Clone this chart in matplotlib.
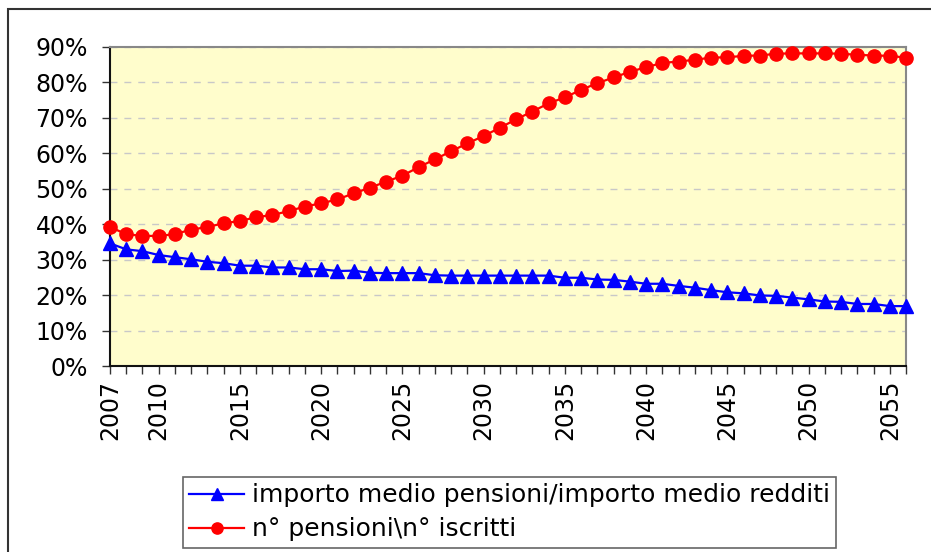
import numpy as np
import matplotlib.pyplot as plt
from matplotlib.ticker import MultipleLocator, FuncFormatter
from matplotlib.patches import Rectangle

# data (percent)
years = np.arange(2007, 2057)
ratio_importo = [34.6, 32.9, 32.4, 31.3, 30.7, 30.1, 29.4, 29.0, 28.3, 28.3,
                 27.8, 27.8, 27.3, 27.3, 26.8, 26.9, 26.3, 26.2, 26.2, 26.2,
                 25.6, 25.5, 25.5, 25.5, 25.5, 25.5, 25.5, 25.5, 24.9, 24.9,
                 24.4, 24.3, 23.8, 23.2, 23.2, 22.6, 22.1, 21.4, 20.8, 20.5,
                 19.9, 19.8, 19.3, 18.8, 18.2, 18.1, 17.5, 17.5, 16.9, 16.9]
ratio_numero = [39.2, 37.2, 36.7, 36.7, 37.2, 38.5, 39.2, 40.3, 40.9, 42.0,
                42.6, 43.7, 45.0, 45.9, 47.0, 48.7, 50.3, 52.0, 53.7, 56.1,
                58.3, 60.6, 62.8, 64.9, 67.2, 69.6, 71.8, 74.1, 75.8, 77.9,
                79.8, 81.4, 83.0, 84.3, 85.5, 85.9, 86.4, 87.0, 87.1, 87.5,
                87.6, 88.1, 88.2, 88.2, 88.2, 88.1, 87.8, 87.6, 87.5, 87.0]
label_importo = "importo medio pensioni/importo medio redditi"
label_numero = "n° pensioni\\n° iscritti"
year_ticks = [2007, 2010, 2015, 2020, 2025, 2030, 2035, 2040, 2045, 2050, 2055]

plt.rcParams['font.family'] = 'DejaVu Sans'

W, H = 931, 552
fig = plt.figure(figsize=(W / 100, H / 100), dpi=100)

# outer chart frame (cut off at right/bottom like the reference)
fig.patches.append(Rectangle((8 / W, -0.1), 1.2, (H - 9) / H + 0.1,
                             transform=fig.transFigure, fill=False,
                             edgecolor='#333333', linewidth=1.5))

ax = fig.add_axes([110 / W, 1 - 366 / H, (906 - 110) / W, (366 - 47) / H])
ax.set_facecolor('#FFFDCC')

ax.plot(years, ratio_importo, color='#0000FF', marker='^', markersize=9.5,
        linewidth=1.6, clip_on=False, zorder=3, label=label_importo)
ax.plot(years, ratio_numero, color='#FF0000', marker='o', markersize=9.5,
        linewidth=1.6, clip_on=False, zorder=3, label=label_numero)

ax.set_xlim(2007, 2056)
ax.set_ylim(0, 90)
ax.yaxis.set_major_locator(MultipleLocator(10))
ax.yaxis.set_major_formatter(FuncFormatter(lambda v, p: f"{v:.0f}%"))
ax.set_xticks(years)
ax.set_xticklabels([str(y) if y in year_ticks else '' for y in years],
                   rotation=90)
ax.tick_params(axis='both', labelsize=17, length=6, width=1, direction='out',
               color='#333333')
ax.tick_params(axis='y', pad=10)
ax.tick_params(axis='x', pad=4)

ax.grid(axis='y', color='#C8C8C8', linestyle=(0, (5, 5)), linewidth=1)
ax.grid(axis='x', visible=False)
ax.set_axisbelow(True)

for s in ['top', 'right']:
    ax.spines[s].set_color('#888888')
    ax.spines[s].set_linewidth(1.5)
for s in ['left', 'bottom']:
    ax.spines[s].set_color('#111111')
    ax.spines[s].set_linewidth(1.5)

leg = fig.legend(loc='upper left', bbox_to_anchor=(183 / W, 1 - 477 / H),
                 fontsize=18, frameon=True, fancybox=False, framealpha=1,
                 edgecolor='#666666', handlelength=2.2, handletextpad=0.3,
                 borderpad=0.25, labelspacing=0.4, borderaxespad=0,
                 markerscale=0.85)
leg.get_frame().set_linewidth(1.2)

fig.savefig('out.png', dpi=100)
